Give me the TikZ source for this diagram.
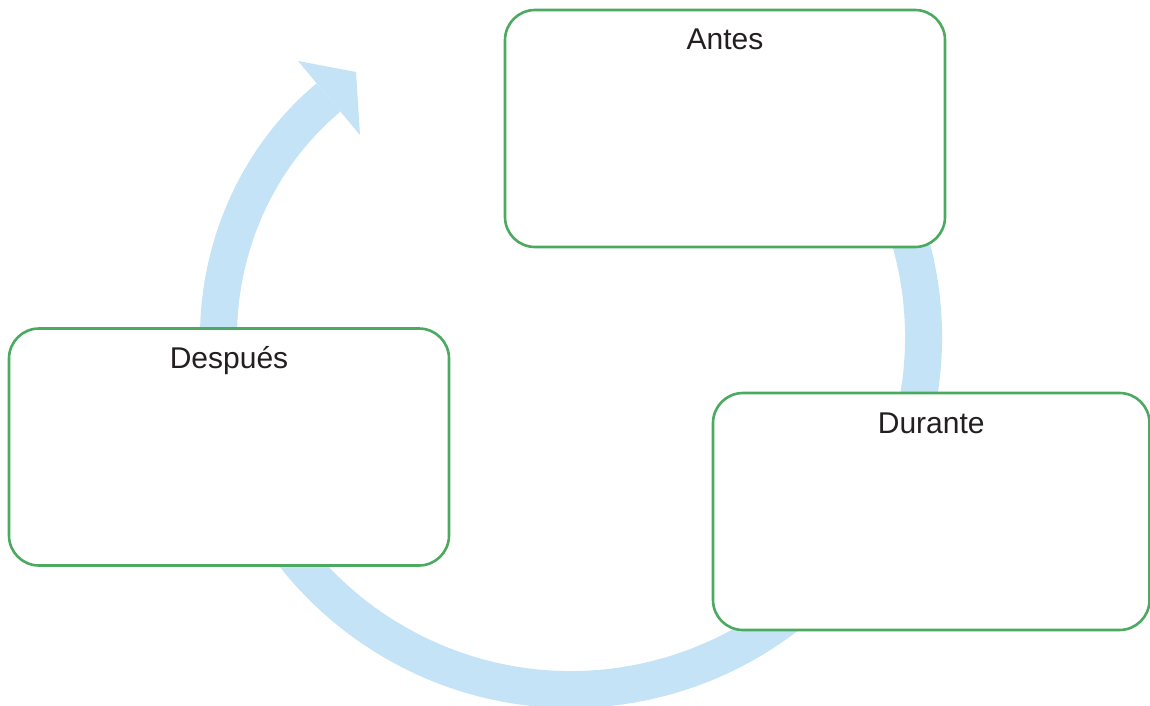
\documentclass[tikz,border=0pt]{standalone}
\usepackage{fontspec}
\setmainfont{Liberation Sans}
\definecolor{boxgreen}{RGB}{75,170,95}
\definecolor{arcblue}{RGB}{196,227,246}
\definecolor{txtgray}{RGB}{35,31,32}
\begin{document}
\begin{tikzpicture}[x=0.5pt,y=-0.5pt,
  stagebox/.style={draw=boxgreen, line width=1.3pt, rounded corners=15pt, fill=white,
    inner sep=0pt, outer sep=0pt, minimum height=118.5pt},
  stagelabel/.style={anchor=base, text=txtgray, font=\fontsize{15}{18}\selectfont, inner sep=0pt},
  cyclearrow/.style={draw=arcblue, line width=18.5pt},
  arrowtip/.style={fill=arcblue}]
\path[use as bounding box, clip] (0,0) rectangle (1150,706);
% cycle arrow
\coordinate (c) at (571,337);
\coordinate (shaftend) at (328.5,97.5);
\draw[cyclearrow] (c) ++(-60:352.5) arc[start angle=-60, end angle=180, radius=352.5]
  .. controls (218.5,245) and (258,156.5) .. (shaftend);
\coordinate (tipA) at (298,61);
\coordinate (tipB) at (356,72);
\coordinate (tipC) at (360,135);
\fill[arrowtip] (tipA) -- (tipB) -- (tipC) -- cycle;
% boxes
\node[stagebox, minimum width=220pt] (antes) at (725,128.5) {};
\node[stagebox, minimum width=220pt] (despues) at (229,447) {};
\node[stagebox, minimum width=218.25pt] (durante) at (931.25,511.5) {};
\node[stagelabel] (antesL) at ([yshift=-20pt]antes.north) {Antes};
\node[stagelabel] (despuesL) at ([yshift=-20pt]despues.north) {Después};
\node[stagelabel] (duranteL) at ([yshift=-20pt]durante.north) {Durante};
\end{tikzpicture}
\end{document}
